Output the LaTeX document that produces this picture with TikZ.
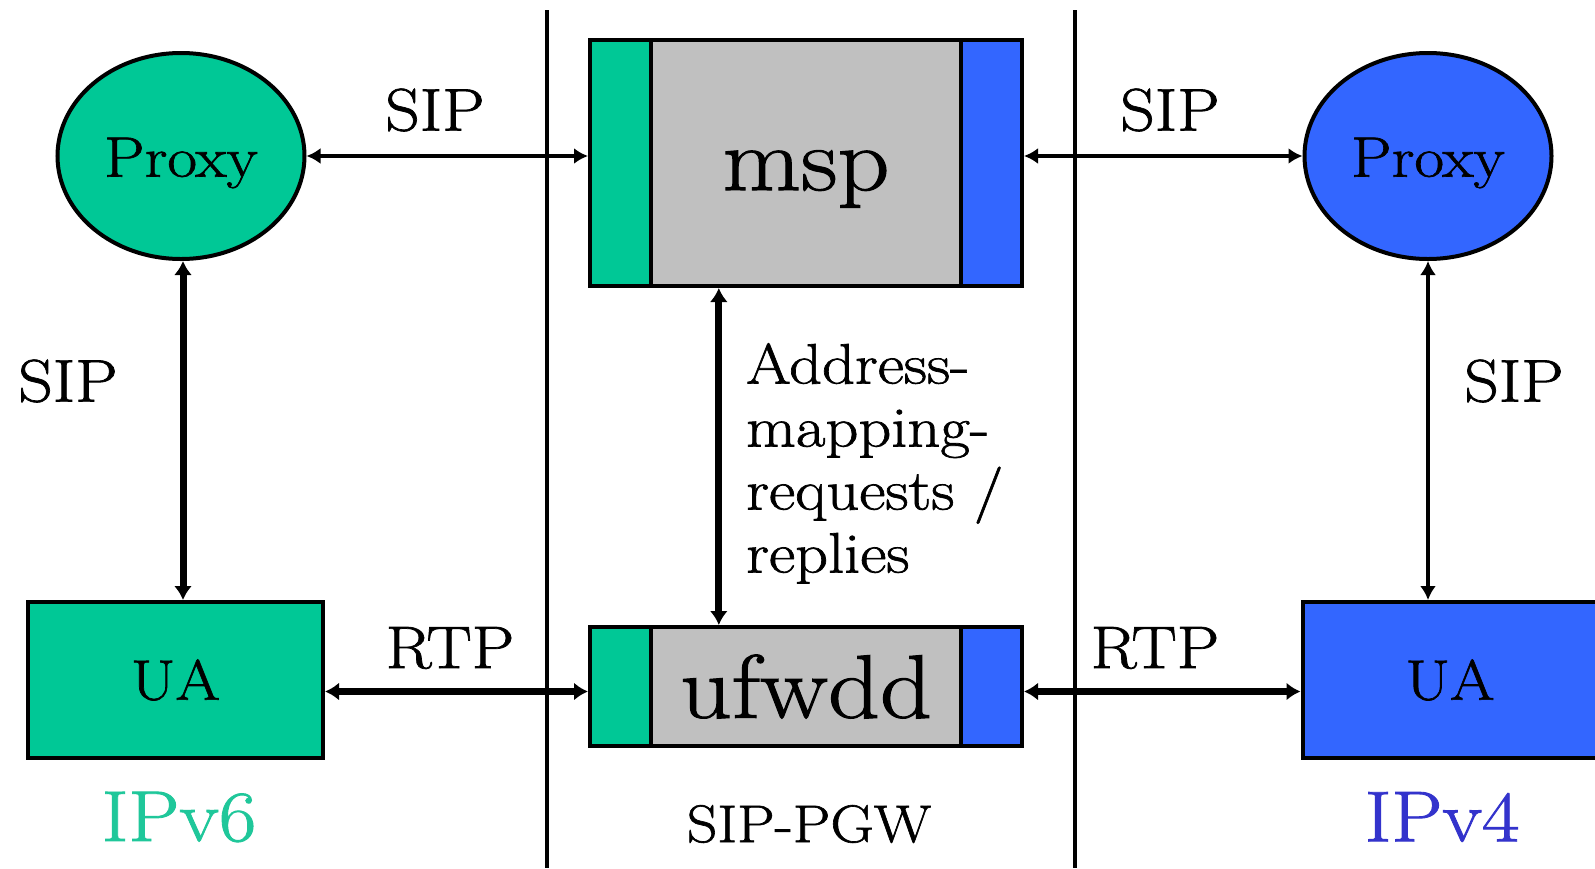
\documentclass[tikz,border=0pt]{standalone}
\usepackage{fontspec}
\setmainfont{Latin Modern Roman}[FakeStretch=1.13,FakeBold=1.2]
\usetikzlibrary{shapes.geometric,arrows.meta,calc}
\definecolor{gr}{HTML}{00C896}
\definecolor{bl}{HTML}{3366FF}
\definecolor{gy}{HTML}{C0C0C0}
\definecolor{ipv6c}{HTML}{1FC79A}
\definecolor{ipv4c}{HTML}{3333CC}
\tikzset{
  proxy/.style={ellipse,draw=black,line width=4pt,minimum width=247pt,minimum height=206pt,inner sep=0pt},
  proxytext/.style={label={[inner sep=0pt,yshift=-7pt,font=\fontsize{57}{60}\selectfont]center:Proxy}},
  uabox/.style={rectangle,draw=black,line width=4pt,minimum width=295pt,minimum height=156pt,inner sep=0pt,font=\fontsize{57}{60}\selectfont},
  gwbox/.style={rectangle,draw=black,line width=4pt,minimum width=432pt,inner sep=0pt,font=\fontsize{90}{92}\selectfont},
  lbl/.style={inner sep=0pt,font=\fontsize{60}{66}\selectfont},
  thin/.style={line width=4pt,{Latex[length=14pt,width=16pt]}-{Latex[length=14pt,width=16pt]}},
  thick/.style={line width=7pt,{Latex[length=14pt,width=18pt]}-{Latex[length=14pt,width=18pt]}},
  sep/.style={line width=4pt}
}
\begin{document}
\begin{tikzpicture}[x=1pt,y=-1pt]
\useasboundingbox (0,0) rectangle (1595,868);
\clip (0,0) rectangle (1595,868);
\fill[white] (0,0) rectangle (1595,868);
% separators
\draw[sep] (547,10) -- (547,868);
\draw[sep] (1075,10) -- (1075,868);
% proxies
\node[proxy,fill=gr,proxytext] (proxyL) at (181,156) {};
\node[proxy,fill=bl,proxytext] (proxyR) at (1428,156) {};
% UAs
\node[uabox,fill=gr] (uaL) at (175.5,680) {UA};
\node[uabox,fill=bl] (uaR) at (1450,680) {UA};
% msp box
\fill[gy] (590,40) rectangle (1022,286);
\draw[line width=4pt,fill=gr] (590,40) rectangle (651,286);
\draw[line width=4pt,fill=bl] (961,40) rectangle (1022,286);
\node[gwbox,minimum height=246pt,label={[inner sep=0pt,yshift=-16pt,font=\fontsize{90}{92}\selectfont]center:msp}] (msp) at (806,163) {};
% ufwdd box
\fill[gy] (590,627) rectangle (1022,746);
\draw[line width=4pt,fill=gr] (590,627) rectangle (651,746);
\draw[line width=4pt,fill=bl] (961,627) rectangle (1022,746);
\node[gwbox,minimum height=119pt] (ufwdd) at (806,686.5) {ufwdd};
\coordinate (rtpin) at ($(ufwdd.west)+(0,5)$);
\coordinate (rtpout) at ($(ufwdd.east)+(0,5)$);
% connectors
\draw[thin] (proxyL.east) -- (msp.west |- proxyL.east);
\draw[thin] (msp.east |- proxyR.west) -- (proxyR.west);
\draw[thick] (proxyL.south -| 183,0) -- (uaL.north -| 183,0);
\draw[thin] (proxyR.south) -- (proxyR.south |- uaR.north);
\draw[thick] ($(msp.south west)!0.3!(msp.south east)$) -- ($(ufwdd.north west)!0.3!(ufwdd.north east)$);
\draw[thick] (uaL.east |- rtpin) -- (rtpin);
\draw[thick] (rtpout) -- (uaR.west |- rtpout);
% labels
\node[lbl] (sip1) at (435,110) {SIP};
\node[lbl] (sip2) at (1170,110) {SIP};
\node[lbl] (sip3) at (68,381) {SIP};
\node[lbl] (sip4) at (1514,381) {SIP};
\node[lbl] (rtp1) at (450,648) {RTP};
\node[lbl] (rtp2) at (1155,648) {RTP};
\node[inner sep=0pt,anchor=north west,align=left,font=\fontsize{57}{63}\selectfont] (amr) at (746,343) {Address-\\mapping-\\requests /\\replies};
\node[inner sep=0pt,text=ipv6c,font=\fontsize{72}{76}\selectfont] (ipv6) at (179,817) {IPv6};
\node[inner sep=0pt,text=ipv4c,font=\fontsize{72}{76}\selectfont] (ipv4) at (1442,817) {IPv4};
\node[inner sep=0pt,font=\fontsize{53}{56}\selectfont] (pgw) at (809,824) {SIP-PGW};
\end{tikzpicture}
\end{document}
